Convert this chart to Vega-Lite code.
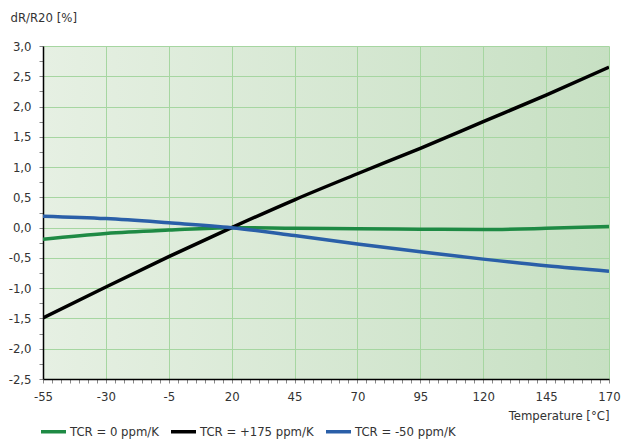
{
  "$schema": "https://vega.github.io/schema/vega-lite/v6.json",
  "width": 566,
  "height": 333,
  "autosize": {"type": "none"},
  "padding": {"left": 43, "top": 46, "right": 23, "bottom": 64},
  "background": "#ffffff",
  "config": {
    "view": {
      "stroke": null,
      "fill": {"gradient": "linear", "x1": 0, "y1": 0, "x2": 1, "y2": 0, "stops": [{"offset": 0, "color": "#e6f0e3"}, {"offset": 1, "color": "#c7e0c3"}]}
    },
    "font": "DejaVu Sans Condensed, Roboto, sans-serif",
    "axis": {"labelFont": "DejaVu Sans Condensed, Roboto, sans-serif", "titleFont": "DejaVu Sans Condensed, Roboto, sans-serif"},
    "legend": {"labelFont": "DejaVu Sans Condensed, Roboto, sans-serif"}
  },
  "data": {
    "values": [
      {"t": -55, "v": -0.19, "s": "TCR = 0 ppm/K"},
      {"t": -30, "v": -0.095, "s": "TCR = 0 ppm/K"},
      {"t": -5, "v": -0.04, "s": "TCR = 0 ppm/K"},
      {"t": 20, "v": 0, "s": "TCR = 0 ppm/K"},
      {"t": 45, "v": -0.01, "s": "TCR = 0 ppm/K"},
      {"t": 70, "v": -0.018, "s": "TCR = 0 ppm/K"},
      {"t": 95, "v": -0.025, "s": "TCR = 0 ppm/K"},
      {"t": 120, "v": -0.032, "s": "TCR = 0 ppm/K"},
      {"t": 145, "v": -0.012, "s": "TCR = 0 ppm/K"},
      {"t": 170, "v": 0.02, "s": "TCR = 0 ppm/K"},
      {"t": -55, "v": -1.49, "s": "TCR = +175 ppm/K"},
      {"t": -30, "v": -0.98, "s": "TCR = +175 ppm/K"},
      {"t": -5, "v": -0.48, "s": "TCR = +175 ppm/K"},
      {"t": 20, "v": 0, "s": "TCR = +175 ppm/K"},
      {"t": 45, "v": 0.46, "s": "TCR = +175 ppm/K"},
      {"t": 70, "v": 0.89, "s": "TCR = +175 ppm/K"},
      {"t": 95, "v": 1.31, "s": "TCR = +175 ppm/K"},
      {"t": 120, "v": 1.75, "s": "TCR = +175 ppm/K"},
      {"t": 145, "v": 2.19, "s": "TCR = +175 ppm/K"},
      {"t": 170, "v": 2.65, "s": "TCR = +175 ppm/K"},
      {"t": -55, "v": 0.19, "s": "TCR = -50 ppm/K"},
      {"t": -30, "v": 0.15, "s": "TCR = -50 ppm/K"},
      {"t": -5, "v": 0.08, "s": "TCR = -50 ppm/K"},
      {"t": 20, "v": 0, "s": "TCR = -50 ppm/K"},
      {"t": 45, "v": -0.13, "s": "TCR = -50 ppm/K"},
      {"t": 70, "v": -0.27, "s": "TCR = -50 ppm/K"},
      {"t": 95, "v": -0.40, "s": "TCR = -50 ppm/K"},
      {"t": 120, "v": -0.52, "s": "TCR = -50 ppm/K"},
      {"t": 145, "v": -0.63, "s": "TCR = -50 ppm/K"},
      {"t": 170, "v": -0.72, "s": "TCR = -50 ppm/K"}
    ]
  },
  "mark": {"type": "line", "strokeWidth": 3.5, "interpolate": "monotone", "clip": true},
  "encoding": {
    "x": {
      "field": "t",
      "type": "quantitative",
      "scale": {"domain": [-55, 170], "nice": false, "zero": false},
      "axis": {
        "title": "Temperature [°C]",
        "titleX": 566,
        "titleY": 40,
        "titleAlign": "right",
        "titleBaseline": "alphabetic",
        "titleFontSize": 13,
        "titleFontWeight": "normal",
        "titleColor": "#333333",
        "values": [-55, -51.43, -47.86, -44.29, -40.71, -37.14, -33.57, -30, -26.43, -22.86, -19.29, -15.71, -12.14, -8.57, -5, -1.43, 2.14, 5.71, 9.29, 12.86, 16.43, 20, 23.57, 27.14, 30.71, 34.29, 37.86, 41.43, 45, 48.57, 52.14, 55.71, 59.29, 62.86, 66.43, 70, 73.57, 77.14, 80.71, 84.29, 87.86, 91.43, 95, 98.57, 102.14, 105.71, 109.29, 112.86, 116.43, 120, 123.57, 127.14, 130.71, 134.29, 137.86, 141.43, 145, 148.57, 152.14, 155.71, 159.29, 162.86, 166.43, 170],
        "format": "d",
        "labelExpr": "abs((datum.value+55)/25 - round((datum.value+55)/25)) < 0.01 ? replace(datum.label, '−', '-') : ''",
        "labelFontSize": 13,
        "labelColor": "#333333",
        "labelPadding": 7,
        "labelFlush": false,
        "labelOverlap": false,
        "tickSize": 4,
        "tickColor": "#888888",
        "domainColor": "#000000",
        "domainWidth": 1.5,
        "grid": true,
        "gridColor": "#a6d6a1",
        "gridWidth": 1,
        "gridOpacity": {"condition": {"test": "abs((datum.value+55)/25 - round((datum.value+55)/25)) < 0.01", "value": 1}, "value": 0}
      }
    },
    "y": {
      "field": "v",
      "type": "quantitative",
      "scale": {"domain": [-2.5, 3.0], "nice": false, "zero": false},
      "axis": {
        "title": "dR/R20 [%]",
        "titleAngle": 0,
        "titleX": -33,
        "titleY": -25,
        "titleAlign": "left",
        "titleBaseline": "alphabetic",
        "titleFontSize": 13,
        "titleFontWeight": "normal",
        "titleColor": "#333333",
        "values": [-2.5, -2.25, -2, -1.75, -1.5, -1.25, -1, -0.75, -0.5, -0.25, 0, 0.25, 0.5, 0.75, 1, 1.25, 1.5, 1.75, 2, 2.25, 2.5, 2.75, 3],
        "labelExpr": "abs(datum.value*2 - round(datum.value*2)) < 0.01 ? replace(replace(format(datum.value, '.1f'), '.', ','), '−', '-') : ''",
        "labelFontSize": 13,
        "labelColor": "#333333",
        "labelPadding": 8,
        "labelFlush": false,
        "labelOverlap": false,
        "tickSize": 4,
        "tickColor": "#888888",
        "domainColor": "#000000",
        "domainWidth": 1.5,
        "grid": true,
        "gridColor": "#a6d6a1",
        "gridWidth": 1,
        "gridOpacity": {"condition": {"test": "abs(datum.value*2 - round(datum.value*2)) < 0.01", "value": 1}, "value": 0}
      }
    },
    "color": {
      "field": "s",
      "type": "nominal",
      "sort": ["TCR = 0 ppm/K", "TCR = +175 ppm/K", "TCR = -50 ppm/K"],
      "scale": {"domain": ["TCR = 0 ppm/K", "TCR = +175 ppm/K", "TCR = -50 ppm/K"], "range": ["#1e8a44", "#000000", "#2a5fa8"]},
      "legend": {
        "title": null,
        "orient": "none",
        "direction": "horizontal",
        "legendX": -4,
        "legendY": 371,
        "padding": 0,
        "symbolType": "stroke",
        "symbolSize": 625,
        "symbolStrokeWidth": 3.5,
        "labelFontSize": 13,
        "labelColor": "#333333",
        "labelOffset": 2,
        "columnPadding": 5
      }
    }
  }
}
